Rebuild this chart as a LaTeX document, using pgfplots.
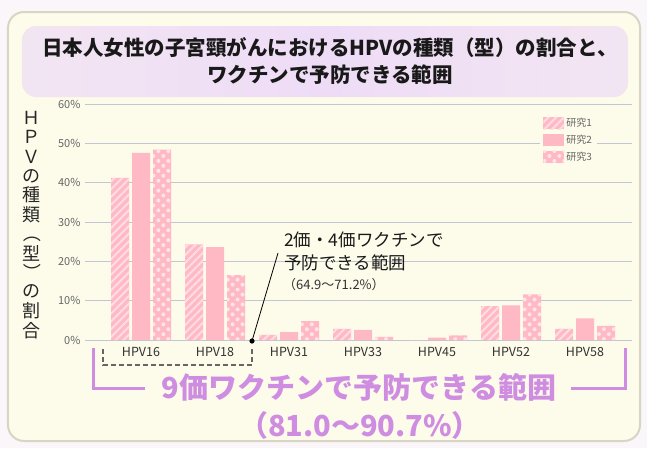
\documentclass[border=0pt]{standalone}
\usepackage{fontspec}
\setmainfont{Noto Sans CJK JP}
\usepackage{pgfplots}
\pgfplotsset{compat=1.18}
\usetikzlibrary{patterns.meta}
\definecolor{outerbg}{HTML}{FAF6FA}
\definecolor{cardbg}{HTML}{FDFBEA}
\definecolor{cardborder}{HTML}{D8D5C5}
\definecolor{lav}{HTML}{EEDCF6}
\definecolor{pinkbar}{HTML}{FFB9C5}
\definecolor{stripecol}{HTML}{FFDCE3}
\definecolor{dotcol}{HTML}{FFE3E9}
\definecolor{gridcol}{HTML}{C2C5D2}
\definecolor{purp}{HTML}{CF8DE2}
\definecolor{ticktext}{HTML}{666666}
\definecolor{labtext}{HTML}{333333}

\pgfplotstableread{
x s1 s2 s3
0 41.2 47.6 48.4
1 24.3 23.6 16.5
2 1.3 2.0 4.8
3 2.8 2.6 0.8
4 0.0 0.6 1.2
5 8.6 8.8 11.6
6 2.8 5.5 3.6
}\hpvdata

\begin{document}
\begin{tikzpicture}[x=1pt,y=1pt]
\begin{scope}[shift={(-85pt,-108pt)}]
\useasboundingbox (0,0) rectangle (647,448);
\fill[outerbg] (0,0) rectangle (647,448);
\draw[cardborder, line width=2pt, fill=cardbg, rounded corners=16pt] (8,7) rectangle (640,436);
\shade[rounded corners=14pt, left color=lav!70!cardbg, right color=lav!70!cardbg, middle color=lav] (22,351) rectangle (628,422);
\node[font=\fontsize{20.5}{24}\selectfont\bfseries, text=black!90] at (330,400) {日本人女性の子宮頸がんにおけるHPVの種類（型）の割合と、};
\node[font=\fontsize{20.5}{24}\selectfont\bfseries, text=black!90] at (330,373) {ワクチンで予防できる範囲};
\end{scope}

\begin{axis}[
  width=547pt, height=236pt, scale only axis,
  ybar=3pt, bar width=18pt,
  xmin=-0.757, xmax=6.635, ymin=0, ymax=60,
  xtick={0,...,6},
  xticklabels={HPV16,HPV18,HPV31,HPV33,HPV45,HPV52,HPV58},
  ytick={0,10,...,60},
  yticklabel={\pgfmathprintnumber{\tick}\%},
  /pgf/number format/assume math mode=true,
  major tick length=0pt,
  axis line style={draw=none},
  ymajorgrids, grid style={gridcol, line width=1pt},
  y tick label style={font=\fontsize{11}{13}\selectfont, text=ticktext, xshift=-1pt},
  x tick label style={font=\fontsize{12.5}{14}\selectfont, text=labtext, yshift=-4pt},
  legend style={at={(0.832,0.962)}, anchor=north west, draw=none, fill=cardbg,
    font=\fontsize{10}{12}\selectfont, text=ticktext, row sep=3pt, inner sep=3pt},
  legend cell align=left,
  mylegend/.style={legend image code/.code={\path[##1] (0pt,-6pt) rectangle (21pt,6pt);}},
]
\addplot[fill=pinkbar, draw=none, postaction={pattern color=stripecol, pattern={Lines[angle=45,distance=5.5pt,line width=2pt]}}, mylegend] table[x=x,y=s1] {\hpvdata};
\addplot[fill=pinkbar, draw=none, mylegend] table[x=x,y=s2] {\hpvdata};
\addplot[fill=pinkbar, draw=none, postaction={pattern color=dotcol, pattern={Dots[radius=2pt,distance=7pt,angle=45]}}, mylegend] table[x=x,y=s3] {\hpvdata};
\legend{研究1,研究2,研究3}
\end{axis}

\begin{scope}[shift={(-85pt,-108pt)}]
% y label
\foreach \c [count=\i from 0] in {Ｈ,Ｐ,Ｖ,の,種,類,-,型,-,の,割,合}{
  \ifnum\i=6
    \node[font=\fontsize{18}{20}\selectfont, text=black!85, rotate=-90] at (32,{330-\i*19.3}) {（};
  \else\ifnum\i=8
    \node[font=\fontsize{18}{20}\selectfont, text=black!85, rotate=-90] at (32,{330-\i*19.3}) {）};
  \else
    \node[font=\fontsize{18}{20}\selectfont, text=black!85] at (32,{330-\i*19.3}) {\c};
  \fi\fi
}

% 2/4-valent annotation
\draw[black, line width=0.8pt] (252,107) -- (278,195);
\fill[black] (252,107) circle (2.6pt);
\node[anchor=west, font=\fontsize{17.5}{20}\selectfont, text=black!90, inner sep=0pt] at (284,208) {2価・4価ワクチンで};
\node[anchor=west, font=\fontsize{17.5}{20}\selectfont, text=black!90, inner sep=0pt] at (284,185) {予防できる範囲};
\node[anchor=west, font=\fontsize{13}{15}\selectfont, text=black!80, inner sep=0pt] at (283,163) {（64.9〜71.2\%）};
\draw[black!60, line width=2pt, dash pattern=on 5pt off 3pt] (103,99) -- (103,83) -- (252,83) -- (252,101);

% 9-valent annotation
\draw[purp, line width=3pt] (93,100) -- (93,60) -- (145,60);
\draw[purp, line width=3pt] (571,60) -- (625,60) -- (625,100);
\node[font=\fontsize{29}{32}\selectfont\bfseries, text=purp] at (359,61) {9価ワクチンで予防できる範囲};
\node[font=\fontsize{29}{32}\selectfont\bfseries, text=purp] at (360,23) {（81.0〜90.7\%）};
\end{scope}
\end{tikzpicture}
\end{document}
